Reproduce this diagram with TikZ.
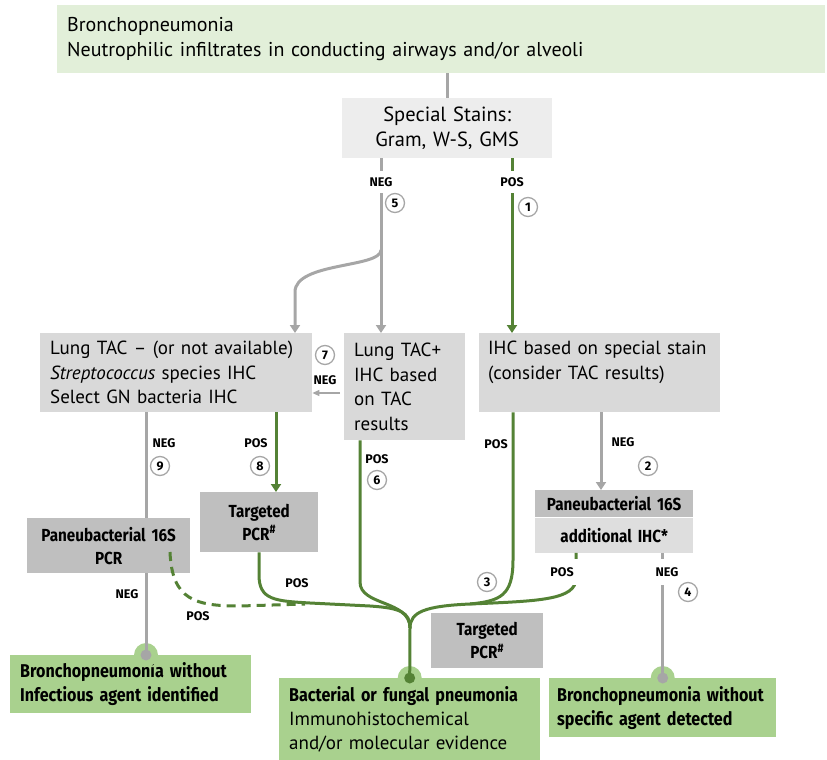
\documentclass[tikz,border=0pt]{standalone}
\usepackage{fontspec}
\setmainfont{PT Sans}
\newfontfamily\condfont[FakeStretch=0.87]{Fira Sans}
\newfontfamily\labfamily{Fira Sans}
\usepackage{tikz}
\usetikzlibrary{
	positioning,
	arrows.meta
}

\definecolor{topgreen}{HTML}{E2EFD9}
\definecolor{stainsgray}{HTML}{EDEDED}
\definecolor{boxgray}{HTML}{D9D9D9}
\definecolor{pcrgray}{HTML}{BFBFBF}
\definecolor{panlight}{HTML}{DEDEDE}
\definecolor{resgreen}{HTML}{A9D18E}
\definecolor{linegreen}{HTML}{548235}
\definecolor{linegray}{HTML}{A6A6A6}

\newcommand\topfont{\fontsize{20}{25}\selectfont}
\newcommand\boxfont{\normalfont\fontsize{19}{24.5}\selectfont}
\newcommand\pcrfont{\condfont\bfseries\fontsize{17.5}{23}\selectfont}
\newcommand\resfont{\condfont\bfseries\fontsize{18.5}{24}\selectfont}
\newcommand\labfont{\labfamily\bfseries\fontsize{12.5}{14}\selectfont}

\hyphenpenalty=10000
\exhyphenpenalty=10000

\tikzset{
	box/.style={anchor=north west,inner xsep=10pt,inner ysep=0pt,align=left,font=\boxfont},
	greybox/.style={box,fill=boxgray},
	pcrbox/.style={box,fill=pcrgray,align=center,font=\pcrfont},
	result/.style={box,fill=resgreen,font=\resfont},
	num/.style={circle,draw=linegray,fill=white,line width=1.3pt,minimum size=19pt,inner sep=0pt,font=\labfont},
	lab/.style={fill=white,inner sep=1.5pt,font=\labfont},
	gline/.style={draw=linegray,line width=3pt},
	pline/.style={draw=linegreen,line width=3pt},
	tip/.style={-{Triangle[width=10pt,length=8pt]}}
}

\begin{document}
\begin{tikzpicture}[x=1pt,y=-1pt]
		\useasboundingbox (0,0) rectangle (827,760);

		\path
			node [box,fill=topgreen,text width=748pt,minimum height=68pt,font=\topfont] (top) at (57,5)
				{Bronchopneumonia\\Neutrophilic infiltrates in conducting airways and/or alveoli}
			node [box,fill=stainsgray,text width=190pt,minimum height=60pt,align=center,font=\boxfont\fontsize{20.5}{25}\selectfont] (stains) at (342,98)
				{Special Stains:\\Gram, W-S, GMS}
			node [greybox,text width=252pt,minimum height=79pt] (tacneg) at (40,333)
				{Lung TAC – (or not available)\\\textit{Streptococcus} species IHC\\Select GN bacteria IHC}
			node [greybox,text width=101pt,minimum height=107pt] (tacpos) at (344,333)
				{Lung TAC+\\IHC based\\on TAC\\results}
			node [greybox,inner xsep=9pt,text width=223pt,minimum height=79pt] (ihc) at (479,333)
				{IHC based on special stain\\(consider TAC results)\\\mbox{}}
			node [pcrbox,text width=138pt,minimum height=27pt] (pan) at (535,490) {Paneubacterial 16S}
			node [pcrbox,fill=panlight,text width=138pt,minimum height=35pt,below=0pt of pan] (addihc) {additional IHC*}
			node [pcrbox,text width=143pt,minimum height=55pt] (panl) at (27,518) {Paneubacterial 16S\\PCR}
			node [pcrbox,text width=98pt,minimum height=60pt] (pcra) at (200,492) {Targeted\\PCR\textsuperscript{\#}}
			node [pcrbox,text width=92pt,minimum height=55pt] (pcrb) at (431,613) {Targeted\\PCR\textsuperscript{\#}}
			node [result,text width=221pt,minimum height=58pt] (resl) at (10,655)
				{Bronchopneumonia without\\Infectious agent identified}
			node [result,text width=241pt,minimum height=82pt] (resm) at (279,678)
				{Bacterial or fungal pneumonia\\\boxfont Immunohistochemical\\and/or molecular evidence}
			node [result,inner xsep=8pt,text width=211pt,minimum height=59pt] (resr) at (549,678)
				{Bronchopneumonia without\\specific agent detected}
		;

		\coordinate (dl) at (146,655);
		\coordinate (j)  at (410,628);
		\coordinate (c5) at (381,250);
		\coordinate (c7) at (295,292);
		\coordinate (a7) at (340,393);
		\coordinate (c1) at (512,250);
		\coordinate (c8) at (276,450);
		\coordinate (c2) at (601,450);
		\coordinate (c3) at (513,560);
		\coordinate (c4) at (576,578);
		\coordinate (c6) at (360,582);
		\coordinate (c9) at (259,575);
		\coordinate (cd) at (170,552);

		\foreach \d in {dl,resm.north,resr.north}
			\fill [resgreen] (\d) circle [radius=12pt];

		\draw [gline] (top.south -| stains.north) -- (stains.north);
		\draw [gline,tip] (stains.south -| c5) -- (tacpos.north -| c5);
		\draw [gline,tip] (c5) .. controls (381,268) and (295,262) .. (c7) -- (tacneg.north -| c7);
		\draw [linegray,line width=1.2pt,-{Triangle[width=6pt,length=7pt]}] (a7) -- (a7 -| tacneg.east);
		\draw [gline] (tacneg.south -| dl) -- (panl.north -| dl);
		\draw [gline] (panl.south -| dl) -- (dl);
		\draw [gline,tip] (ihc.south -| c2) -- (pan.north -| c2);
		\draw [gline] (addihc.south -| resr.north) -- (resr.north);

		\draw [pline,tip] (stains.south -| c1) -- (ihc.north -| c1);
		\draw [pline,tip] (tacneg.south -| c8) -- (pcra.north -| c8);
		\draw [pline] (ihc.south -| c3) -- (c3) .. controls (513,596) and (500,601) .. (470,604);
		\draw [pline] (addihc.south -| c4) -- (c4) .. controls (576,600) and (540,601) .. (470,604)
			.. controls (425,606) and (410,612) .. (j);
		\draw [pline] (tacpos.south -| c6) -- (c6) .. controls (360,606) and (410,600) .. (j);
		\draw [pline] (pcra.south) -- (c9) .. controls (259,600) and (275,601) .. (310,603) -- (370,606)
			.. controls (400,608) and (410,612) .. (j);
		\draw [pline,dash pattern=on 9pt off 6pt] (cd) .. controls (172,600) and (195,606) .. (240,606) -- (305,604);
		\draw [pline] (j) -- (resm.north);

		\fill [linegray]  (dl)         circle [radius=5.5pt];
		\fill [linegreen] (resm.north) circle [radius=5.5pt];
		\fill [linegray]  (resr.north) circle [radius=5.5pt];

		\path
			node [lab,minimum height=22pt] (l5) at (381,182) {NEG}
			node [num]                     (n5) at (395,203) {5}
			node [lab,minimum height=22pt] (l1) at (512,182) {POS}
			node [num]                     (n1) at (528,207) {1}
			node [num]                     (n7) at (325,355) {7}
			node [lab]                     (l7) at (325,380) {NEG}
			node [lab]                     (l9) at (164,443) {NEG}
			node [num]                     (n9) at (160,466) {9}
			node [lab]                     (l8) at (256,443) {POS}
			node [num]                     (n8) at (260,466) {8}
			node [lab]                     (l6) at (377,459) {POS}
			node [num]                     (n6) at (377,480) {6}
			node [lab]                     (l3) at (496,444) {POS}
			node [num]                     (n3) at (487,582) {3}
			node [lab]                     (l2) at (623,442) {NEG}
			node [num]                     (n2) at (648,466) {2}
			node [lab]                     (lp) at (297,583) {POS}
			node [lab]                     (ld) at (198,616) {POS}
			node [lab]                     (ln) at (127,594) {NEG}
			node [lab,minimum height=26pt,inner xsep=8pt] (l3b) at (562,572) {POS}
			node [lab,minimum height=26pt] (l4) at (667,572) {NEG}
			node [num]                     (n4) at (688,592) {4}
		;
\end{tikzpicture}
\end{document}
